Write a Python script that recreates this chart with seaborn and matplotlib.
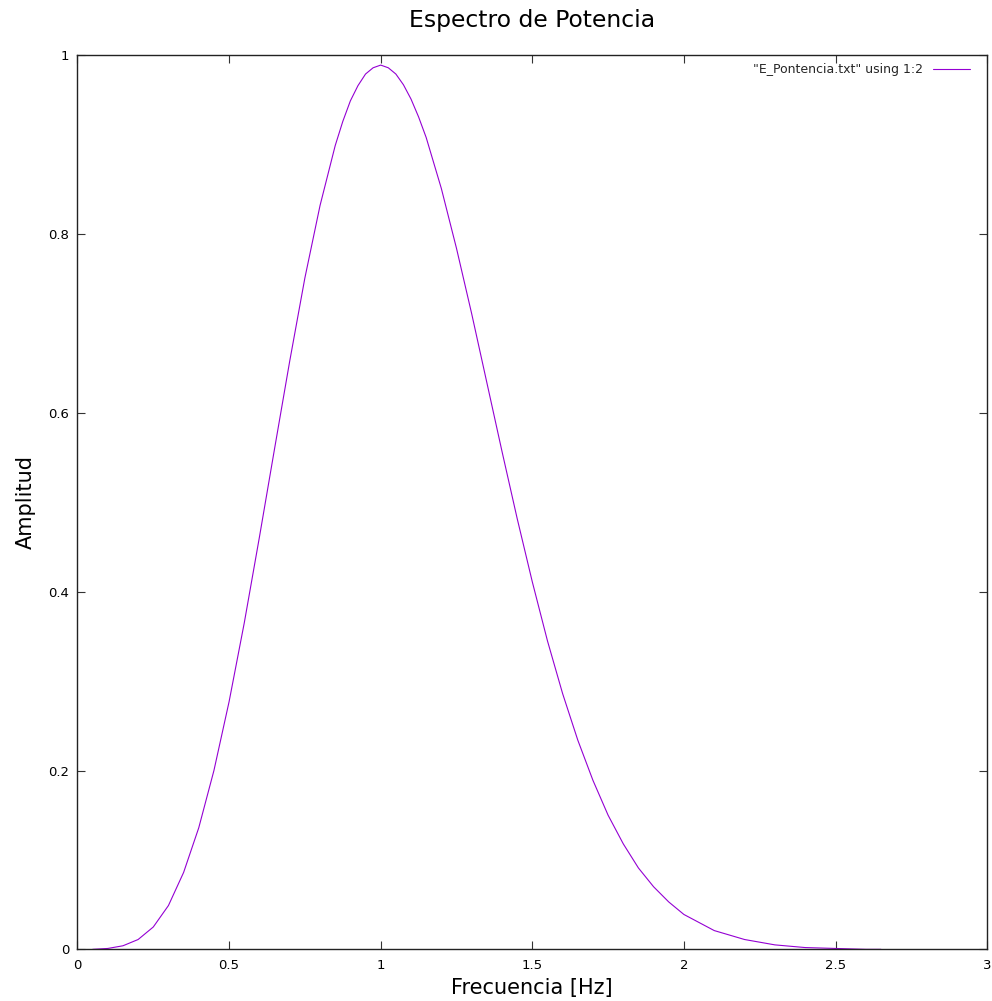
import matplotlib
matplotlib.use("Agg")
import matplotlib.pyplot as plt
import matplotlib.ticker as mticker
import seaborn as sns
import pandas as pd

# Values
frecuencia = [0.05, 0.10, 0.15, 0.20, 0.25, 0.30, 0.35, 0.40, 0.45, 0.50,
              0.55, 0.60, 0.65, 0.70, 0.75, 0.80, 0.85, 0.875, 0.90, 0.925,
              0.95, 0.975, 1.00, 1.025, 1.05, 1.075, 1.10, 1.125, 1.15, 1.20,
              1.25, 1.30, 1.35, 1.40, 1.45, 1.50,
              1.55, 1.60, 1.65, 1.70, 1.75, 1.80, 1.85, 1.90, 1.95, 2.00,
              2.10, 2.20, 2.30, 2.40, 2.50, 2.60, 2.65]
amplitud = [0.000, 0.001, 0.004, 0.011, 0.025, 0.049, 0.086, 0.136, 0.200, 0.277,
            0.365, 0.461, 0.560, 0.658, 0.751, 0.832, 0.899, 0.926, 0.949, 0.966,
            0.979, 0.986, 0.989, 0.986, 0.979, 0.967, 0.951, 0.931, 0.908, 0.851,
            0.784, 0.711, 0.634, 0.557, 0.482, 0.411,
            0.345, 0.286, 0.234, 0.189, 0.150, 0.118, 0.091, 0.070, 0.053, 0.039,
            0.021, 0.011, 0.005, 0.002, 0.001, 0.000, 0.000]
serie = '"E_Pontencia.txt" using 1:2'
x_ticks = [0, 0.5, 1, 1.5, 2, 2.5, 3]
y_ticks = [0, 0.2, 0.4, 0.6, 0.8, 1]

sns.set_theme(style="white")
plt.rcParams['font.family'] = ['DejaVu Sans']

df = pd.DataFrame({"Frecuencia": frecuencia, "Amplitud": amplitud, "serie": serie})

fig = plt.figure(figsize=(9.92, 10.01), dpi=100)
ax = fig.add_axes([0.0781, 0.0516, 0.917, 0.8932])

sns.lineplot(data=df, x="Frecuencia", y="Amplitud", hue="serie",
             palette=["#9400D3"], linewidth=0.8, ax=ax, sort=True)

ax.set_xlim(0, 3)
ax.set_ylim(0, 1)
ax.set_xticks(x_ticks)
ax.set_yticks(y_ticks)
ax.xaxis.set_major_formatter(mticker.FuncFormatter(lambda v, p: f"{v:g}"))
ax.yaxis.set_major_formatter(mticker.FuncFormatter(lambda v, p: f"{v:g}"))
ax.tick_params(axis='both', which='major', direction='in', length=6, width=0.8,
               color='#333333', labelsize=9.5, labelcolor='black',
               top=True, right=True, bottom=True, left=True)
ax.tick_params(axis='x', pad=7)
ax.tick_params(axis='y', pad=6)
for s in ax.spines.values():
    s.set_visible(True)
    s.set_color('#222222')
    s.set_linewidth(1.0)
ax.grid(False)

ax.set_xlabel("Frecuencia [Hz]", fontsize=15, labelpad=4, color='black')
ax.set_ylabel("Amplitud", fontsize=15, labelpad=9, color='black')
fig.text(532 / 992, 1 - 21 / 1001, "Espectro de Potencia", fontsize=16.9,
         ha='center', va='center', color='black')

leg = ax.legend(loc='upper right', bbox_to_anchor=(1 - 7 / 909.5, 1 + 2 / 894),
                frameon=False, markerfirst=False, fontsize=9.0,
                handlelength=3.0, borderaxespad=0.4, title=None)

fig.savefig("out.png", dpi=100, facecolor='white')
